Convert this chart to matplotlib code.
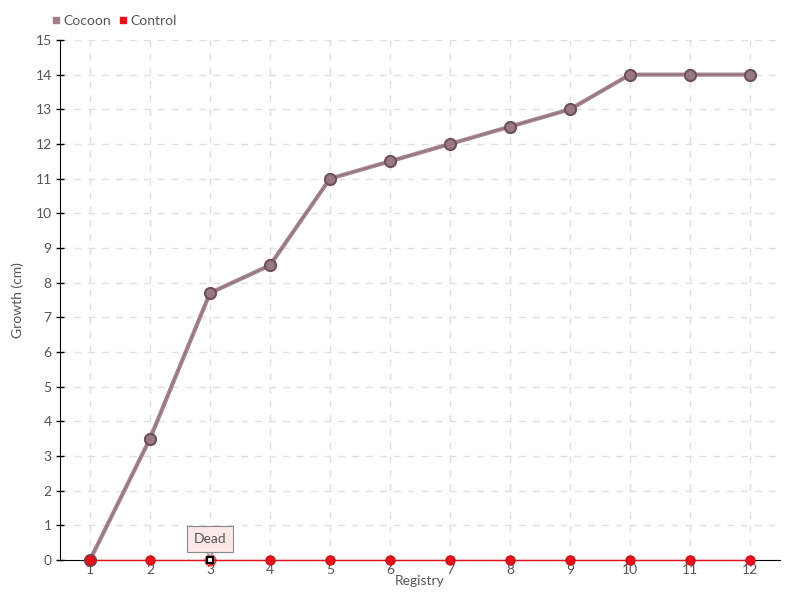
import matplotlib
matplotlib.use("Agg")
import matplotlib.pyplot as plt
from matplotlib.lines import Line2D

registry = [1, 2, 3, 4, 5, 6, 7, 8, 9, 10, 11, 12]
cocoon = [0, 3.5, 7.7, 8.5, 11, 11.5, 12, 12.5, 13, 14, 14, 14]
control = [0, 0, 0, 0, 0, 0, 0, 0, 0, 0, 0, 0]
dead_index = 2
dead_label = "Dead"
y_ticks = list(range(0, 16))

plt.rcParams['font.family'] = ['Lato', 'DejaVu Sans']
txt = '#555555'

fig = plt.figure(figsize=(8, 6), dpi=100)
ax = fig.add_axes([0.075, 0.0667, 0.9, 0.8667])

ax.plot(registry, cocoon, color='#a88890', lw=3, zorder=3, solid_capstyle='round', clip_on=False)
ax.plot(registry, cocoon, color='#7a5a62', lw=0.8, zorder=3, alpha=0.5, clip_on=False)
ax.plot(registry, cocoon, 'o', ms=8, mfc='#9a7a82', mec='#6e5058', mew=1.5, zorder=4, clip_on=False)

ax.plot(registry, control, color='#e8101a', lw=1, zorder=5, clip_on=False)
ctrl_x = [r for i, r in enumerate(registry) if i != dead_index]
ctrl_y = [v for i, v in enumerate(control) if i != dead_index]
ax.plot(ctrl_x, ctrl_y, 'o', ms=6.5, mfc='#e8101a', mec='#c81018', mew=1, zorder=6, clip_on=False)
ax.plot([registry[dead_index]], [control[dead_index]], 'o', ms=8, mfc='#e8101a', mec='#e8101a',
        zorder=6, alpha=0.6, clip_on=False)
ax.plot([registry[dead_index]], [control[dead_index]], 's', ms=5, mfc='white', mec='black', mew=1.5,
        zorder=7, clip_on=False)

ax.annotate(dead_label, xy=(registry[dead_index], control[dead_index]), xytext=(0, 15),
            textcoords='offset points', ha='center', va='center', fontsize=10, color=txt,
            bbox=dict(boxstyle='square,pad=0.5', fc='#fde8e8', ec='#888888', lw=0.8),
            arrowprops=dict(arrowstyle='wedge,tail_width=0.5', fc='#fde8e8', ec='#888888', lw=0.8,
                            shrinkA=0, shrinkB=3),
            zorder=8)

ax.set_xlim(0.5, 12.5)
ax.set_ylim(0, 15)
ax.set_xticks(registry)
ax.set_xticklabels([str(r) for r in registry])
ax.set_yticks(y_ticks)
ax.grid(True, color='#e0e0e0', linestyle=(0, (5, 5)), lw=1)
ax.set_axisbelow(True)
for s in ['top', 'right']:
    ax.spines[s].set_visible(False)
ax.spines['left'].set_color('black')
ax.spines['bottom'].set_color('black')
ax.tick_params(axis='y', direction='inout', length=6, width=1, colors='black', labelcolor=txt,
               labelsize=10, pad=3)
ax.tick_params(axis='x', length=0, labelcolor=txt, labelsize=10, pad=3)
ax.set_ylabel('Growth (cm)', color=txt, fontsize=10, labelpad=8)
ax.set_xlabel('Registry', color=txt, fontsize=10, labelpad=-1)

handles = [Line2D([], [], marker='s', ls='', ms=5, mfc='#a08088', mec='#a08088'),
           Line2D([], [], marker='s', ls='', ms=5, mfc='#e8101a', mec='#e8101a')]
fig.legend(handles, ['Cocoon', 'Control'], loc='upper left', bbox_to_anchor=(0.058, 0.985),
           ncol=2, frameon=False, fontsize=10, labelcolor=txt, handlelength=0.6,
           handletextpad=0.2, columnspacing=0.6, borderaxespad=0)

fig.savefig('out.png', dpi=100)
